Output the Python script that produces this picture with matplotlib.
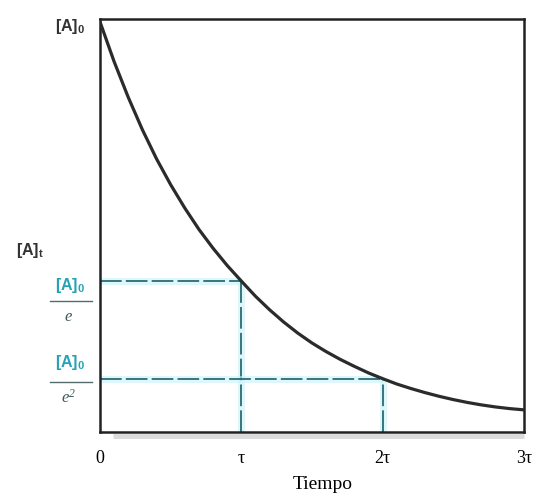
import numpy as np
import matplotlib
matplotlib.use("Agg")
import matplotlib.pyplot as plt
from matplotlib.transforms import ScaledTranslation

plt.rcParams['mathtext.default'] = 'regular'

# curve values, every 0.1 tau
t_vals = [0.0, 0.1, 0.2, 0.3, 0.4, 0.5, 0.6, 0.7, 0.8, 0.9,
          1.0, 1.1, 1.2, 1.3, 1.4, 1.5, 1.6, 1.7, 1.8, 1.9,
          2.0, 2.1, 2.2, 2.3, 2.4, 2.5, 2.6, 2.7, 2.8, 2.9, 3.0]
a_vals = [1.000, 0.903, 0.816, 0.737, 0.666, 0.603, 0.546, 0.494, 0.448, 0.406,
          0.368, 0.331, 0.298, 0.268, 0.241, 0.217, 0.196, 0.177, 0.160, 0.144,
          0.130, 0.117, 0.106, 0.096, 0.087, 0.079, 0.072, 0.066, 0.061, 0.057, 0.054]

guide_t = [1.0, 2.0]
guide_a = [0.368, 0.130]

tick_pos = [0, 1, 2, 3]
tick_labels = ['0', 'τ', '2τ', '3τ']

teal = '#1d5e6b'
cyan_txt = '#27a3b5'

fig = plt.figure(figsize=(5.33, 4.97), dpi=100)
ax = fig.add_axes([100/533, 65/497, 424/533, 413/497])

# guide lines (with a light glow)
for tg, ag in zip(guide_t, guide_a):
    ax.plot([0, tg], [ag, ag], color='#c8f2f7', lw=5, alpha=0.6, solid_capstyle='butt')
    ax.plot([tg, tg], [0, ag], color='#c8f2f7', lw=5, alpha=0.6, solid_capstyle='butt')
    ax.plot([0, tg], [ag, ag], color=teal, lw=1.2, dashes=(13, 2.5))
    ax.plot([tg, tg], [0, ag], color=teal, lw=1.2, dashes=(13, 2.5))

ax.plot(t_vals, a_vals, color='#2b2b2b', lw=2.3, solid_capstyle='round', zorder=5)

ax.set_xlim(0, 3)
ax.set_ylim(0, 1.007)
for s in ax.spines.values():
    s.set_linewidth(1.8)
    s.set_color('#222222')

ax.set_xticks(tick_pos)
ax.set_xticklabels(tick_labels, family='Liberation Serif', fontsize=13)
ax.tick_params(axis='x', length=0, pad=13)
ax.set_yticks([])
ax.set_xlabel('Tiempo', family='Liberation Serif', fontsize=14)
ax.xaxis.set_label_coords(0.526, -0.106)

# shadow under the bottom axis
ax.plot([0.03, 1.0], [0, 0], transform=ax.transAxes + ScaledTranslation(0, -0.04, fig.dpi_scale_trans),
        color='#999999', lw=3.5, alpha=0.35, clip_on=False, solid_capstyle='butt')

# y labels
ax.annotate('[A]$_0$', xy=(0, 1.0), xycoords=('axes fraction', 'data'),
            xytext=(-21.6, -3.6), textcoords='offset points', ha='center', va='center',
            family='Liberation Sans', fontweight='bold', fontsize=11.5, color='#333333')
ax.text(-0.165, 0.44, '[A]$_t$', transform=ax.transAxes, ha='center', va='center',
        family='Liberation Sans', fontweight='bold', fontsize=11.5, color='#333333')

# fraction labels: numerator offset, bar offset, denominator text and offset (points)
fracs = [(guide_a[0], -2.9, -14.4, 'e', -26.0),
         (guide_a[1], 12.0, -2.2, 'e$^2$', -13.5)]
for lvl, dy_num, dy_bar, den, dy_den in fracs:
    ax.annotate('[A]$_0$', xy=(0, lvl), xycoords=('axes fraction', 'data'),
                xytext=(-21.6, dy_num), textcoords='offset points', ha='center', va='center',
                family='Liberation Sans', fontweight='bold', fontsize=11.5, color=cyan_txt)
    bar_tr = ax.get_yaxis_transform() + ScaledTranslation(0, dy_bar / 72, fig.dpi_scale_trans)
    ax.plot([-0.118, -0.02], [lvl, lvl], transform=bar_tr, color='#556b6b', lw=1.0, clip_on=False)
    ax.annotate(den, xy=(0, lvl), xycoords=('axes fraction', 'data'),
                xytext=(-23, dy_den), textcoords='offset points', ha='center', va='center',
                family='Liberation Serif', fontstyle='italic', fontsize=12, color='#3d5a5a')

fig.savefig('out.png', dpi=100)
